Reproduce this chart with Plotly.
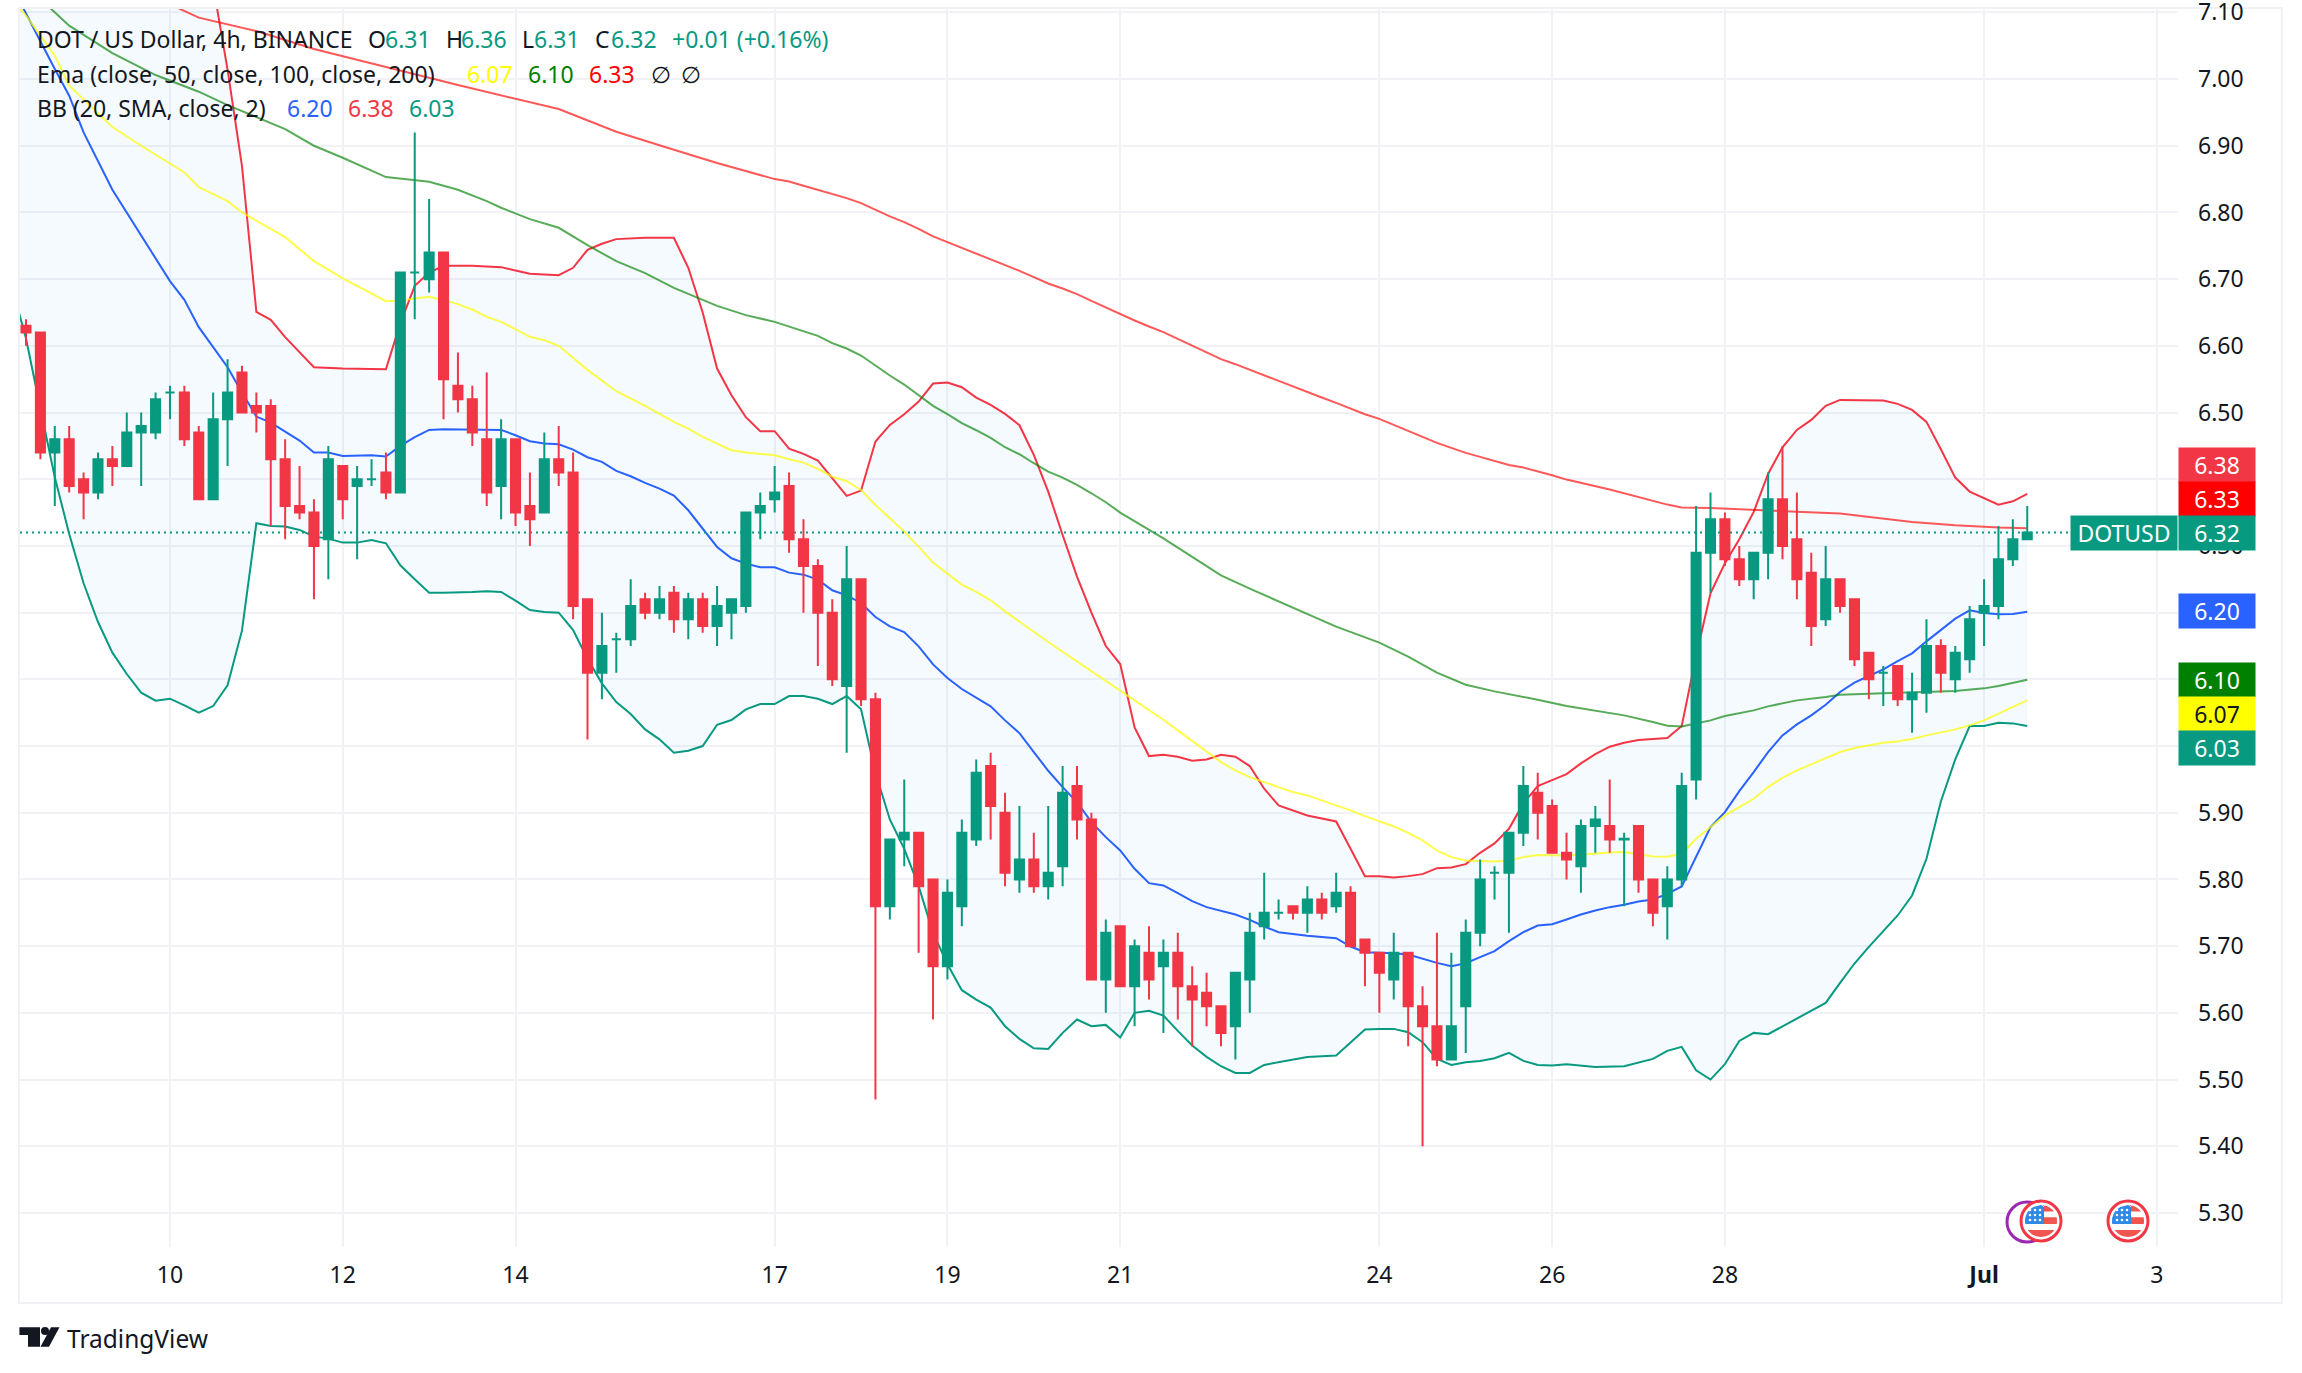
import math
import pandas as pd
import plotly.graph_objects as go

# 4h candles, first bar 8 Jun 08:00
opens = [6.63,6.62,6.44,6.46,6.40,6.38,6.43,6.42,6.47,6.47,
         6.53,6.53,6.47,6.37,6.49,6.56,6.51,6.51,6.43,6.36,
         6.35,6.31,6.42,6.39,6.40,6.41,6.38,6.71,6.70,6.74,
         6.54,6.52,6.46,6.39,6.46,6.36,6.35,6.43,6.41,6.22,
         6.11,6.16,6.16,6.22,6.20,6.23,6.19,6.22,6.18,6.20,
         6.21,6.35,6.37,6.39,6.31,6.27,6.20,6.09,6.25,6.07,
         5.76,5.86,5.87,5.80,5.67,5.76,5.86,5.97,5.90,5.80,
         5.83,5.79,5.82,5.94,5.89,5.65,5.73,5.64,5.69,5.67,
         5.69,5.64,5.63,5.61,5.58,5.65,5.73,5.75,5.76,5.75,
         5.77,5.76,5.78,5.71,5.69,5.65,5.69,5.61,5.58,5.53,
         5.61,5.72,5.81,5.81,5.87,5.93,5.91,5.84,5.82,5.88,
         5.88,5.86,5.88,5.80,5.76,5.80,5.95,6.29,6.34,6.28,
         6.25,6.29,6.37,6.31,6.26,6.19,6.25,6.22,6.14,6.11,
         6.12,6.07,6.08,6.15,6.10,6.13,6.20,6.21,6.28,6.31]
highs = [6.64,6.62,6.48,6.48,6.41,6.44,6.45,6.50,6.50,6.53,
         6.54,6.54,6.48,6.53,6.58,6.57,6.53,6.52,6.46,6.42,
         6.37,6.45,6.42,6.42,6.43,6.44,6.71,6.92,6.82,6.74,
         6.59,6.54,6.56,6.49,6.46,6.41,6.47,6.48,6.44,6.22,
         6.20,6.17,6.25,6.23,6.24,6.24,6.23,6.23,6.24,6.22,
         6.35,6.38,6.42,6.41,6.34,6.28,6.22,6.30,6.25,6.08,
         5.86,5.95,5.87,5.80,5.80,5.89,5.98,5.99,5.93,5.91,
         5.87,5.91,5.97,5.97,5.90,5.74,5.73,5.71,5.73,5.71,
         5.72,5.67,5.66,5.61,5.66,5.75,5.81,5.77,5.76,5.79,
         5.78,5.81,5.79,5.71,5.69,5.72,5.69,5.64,5.72,5.69,
         5.74,5.83,5.82,5.87,5.97,5.96,5.92,5.87,5.89,5.91,
         5.95,5.87,5.88,5.80,5.82,5.96,6.36,6.38,6.35,6.30,
         6.29,6.41,6.45,6.38,6.29,6.30,6.25,6.22,6.14,6.12,
         6.12,6.11,6.19,6.16,6.15,6.21,6.25,6.33,6.34,6.36]
lows = [6.60,6.43,6.36,6.38,6.34,6.37,6.39,6.42,6.39,6.46,
        6.49,6.45,6.37,6.37,6.42,6.50,6.47,6.33,6.31,6.34,
        6.22,6.25,6.34,6.28,6.39,6.37,6.38,6.64,6.68,6.49,
        6.50,6.45,6.36,6.34,6.33,6.30,6.35,6.39,6.19,6.01,
        6.07,6.11,6.15,6.19,6.19,6.17,6.16,6.17,6.15,6.16,
        6.20,6.31,6.35,6.29,6.20,6.12,6.09,5.99,6.06,5.47,
        5.74,5.82,5.69,5.59,5.65,5.73,5.85,5.86,5.79,5.78,
        5.78,5.77,5.79,5.86,5.65,5.60,5.64,5.58,5.62,5.57,
        5.59,5.55,5.58,5.55,5.53,5.60,5.71,5.74,5.74,5.72,
        5.74,5.75,5.70,5.64,5.60,5.62,5.55,5.40,5.52,5.53,
        5.54,5.70,5.77,5.72,5.85,5.86,5.84,5.80,5.78,5.84,
        5.84,5.76,5.78,5.73,5.71,5.79,5.92,6.23,6.27,6.24,
        6.22,6.25,6.28,6.22,6.15,6.18,6.20,6.12,6.07,6.06,
        6.06,6.02,6.05,6.08,6.08,6.11,6.15,6.19,6.27,6.31]
closes = [6.62,6.44,6.46,6.39,6.38,6.43,6.42,6.47,6.48,6.52,
          6.53,6.46,6.37,6.49,6.53,6.50,6.50,6.43,6.36,6.35,
          6.30,6.43,6.37,6.40,6.40,6.38,6.71,6.71,6.74,6.55,
          6.52,6.47,6.38,6.46,6.35,6.34,6.43,6.41,6.21,6.11,
          6.15,6.16,6.21,6.20,6.22,6.19,6.22,6.18,6.21,6.22,
          6.35,6.36,6.38,6.31,6.27,6.20,6.10,6.25,6.07,5.76,
          5.86,5.87,5.79,5.67,5.78,5.87,5.96,5.91,5.81,5.83,
          5.79,5.81,5.93,5.89,5.65,5.72,5.64,5.70,5.65,5.69,
          5.64,5.62,5.61,5.57,5.66,5.72,5.75,5.75,5.75,5.77,
          5.75,5.78,5.70,5.69,5.66,5.69,5.61,5.58,5.53,5.58,
          5.72,5.80,5.81,5.87,5.94,5.90,5.84,5.83,5.88,5.89,
          5.86,5.861,5.80,5.75,5.80,5.94,6.29,6.34,6.28,6.25,
          6.29,6.37,6.30,6.25,6.18,6.25,6.21,6.13,6.10,6.11,
          6.07,6.08,6.15,6.11,6.14,6.19,6.21,6.28,6.31,6.32]

# indicator lines, read as vertices: bar number, price
bb_lower_bars = list(range(-1, 87)) + [89, 91, 92, 93, 94, 95, 96, 97, 98, 99, 100, 101, 102, 103, 104, 105, 106, 107,
                                       109, 111, 113, 114, 115, 116, 117, 118, 119, 120, 121, 123, 125, 126, 127, 128,
                                       130, 131, 132, 133, 134, 135, 136, 137, 138, 139]
bb_lower = [6.69,6.611,6.506,6.403,6.318,6.244,6.186,6.14,6.108,6.08,6.068,6.071,6.061,6.05,6.06,6.091,6.173,
            6.334,6.33,6.329,6.324,6.314,6.311,6.305,6.305,6.309,6.304,6.271,6.25,6.23,6.23,6.23,6.231,6.232,
            6.231,6.218,6.204,6.201,6.2,6.174,6.131,6.094,6.066,6.048,6.025,6.01,5.99,5.993,6.0,6.032,6.039,
            6.055,6.063,6.063,6.075,6.075,6.071,6.063,6.075,6.055,5.96,5.89,5.846,5.79,5.72,5.673,5.634,5.62,5.608,
            5.58,5.561,5.547,5.546,5.57,5.59,5.58,5.582,5.563,5.60,5.603,5.596,5.573,5.551,5.534,5.52,5.51,5.51,
            5.522,
            5.534,5.536,5.556,5.575,5.576,5.576,5.571,5.556,5.531,5.522,5.526,5.528,5.532,5.54,5.528,5.522,5.521,5.523,
            5.519,5.52,5.531,5.543,5.549,5.514,5.5,5.523,5.558,5.57,5.568,5.592,5.615,5.645,5.674,5.699,
            5.746,5.776,5.831,5.917,5.98,6.03,6.03,6.035,6.034,6.03]
bb_upper_bars = [-1, 2, 4, 6, 8, 10, 12, 13, 14, 15, 16, 17, 18, 19, 20, 22, 25, 26, 27, 28, 29, 31, 33, 34, 35, 37, 38,
                 39, 40, 41, 43, 45, 46, 47, 48, 49, 50, 51, 52, 53, 54, 55, 56, 57, 58, 59, 60, 61, 62, 63, 64, 65,
                 66, 67, 68, 69, 70, 71, 72, 73, 74, 75, 76, 77, 78, 79, 80, 81, 82, 83, 84, 85, 86, 87, 89, 91, 92,
                 93, 94, 95, 96, 97, 98, 99, 100, 101, 102, 103, 104, 105, 106, 107, 108, 109, 110, 111, 112, 114, 115,
                 116, 117, 118, 119, 120, 121, 122, 123, 124, 125, 126, 129, 130, 131, 132, 133, 134, 135, 136, 137,
                 138, 139]
bb_upper = [7.58,7.63,7.60,7.53,7.44,7.32,7.21,7.14,7.014,6.87,6.651,6.639,6.613,6.591,6.568,6.566,6.565,6.634,6.69,
            6.71,6.72,6.72,6.718,6.713,6.708,6.706,6.717,6.744,6.753,6.76,6.762,6.762,6.717,6.65,6.566,6.526,6.493,
            6.472,6.472,6.446,6.438,6.428,6.4015,6.375,6.383,6.4565,6.4815,6.4975,6.5165,6.5435,6.545,6.538,6.5225,
            6.5115,6.498,6.481,6.4365,6.3815,6.3165,6.254,6.2,6.15,6.123,6.028,5.985,5.987,5.984,5.978,5.98,5.987,
            5.984,5.97,5.936,5.911,5.896,5.887,5.846,5.805,5.805,5.803,5.805,5.808,5.817,5.818,5.823,5.84,5.854,
            5.876,5.914,5.94,5.949,5.958,5.974,5.988,5.999,6.005,6.009,6.012,6.03,6.135,6.229,6.274,6.31,6.351,6.408,
            6.448,6.474,6.489,6.51,6.519,6.518,6.513,6.504,6.486,6.445,6.4025,6.3815,6.372,6.362,6.367,6.378]
bb_basis_bars = [-1, 1, 2, 3, 4, 6, 7, 9] + list(range(10, 88)) + [89] + list(range(91, 140))
bb_basis = [7.14,7.056,7.015,6.975,6.92,6.834,6.80,6.733,6.697,6.669,6.628,6.598,6.568,6.53,6.494,6.485,6.471,6.458,
            6.44,6.44,6.435,6.435,6.436,6.434,6.45,6.463,6.474,6.475,6.475,6.475,6.475,6.474,6.466,6.457,6.4535,6.4525,
            6.4445,6.433,6.426,6.4125,6.4045,6.3945,6.386,6.3755,6.3535,6.326,6.2985,6.2815,6.2735,6.268,6.268,6.26,
            6.257,6.2495,6.2335,6.226,6.2145,6.1935,6.1795,6.171,6.1495,6.1225,6.102,6.0855,6.0725,6.0595,6.0385,
            6.0195,5.991,5.963,5.9385,5.916,5.886,5.8635,5.8435,5.816,5.7945,5.791,5.7795,5.7675,5.7585,5.7535,5.7475,
            5.7395,5.7295,5.721,5.7155,5.712,5.6995,5.691,5.6905,5.6895,5.6875,5.681,5.675,5.67,5.6745,5.6835,5.6925,
            5.7075,5.721,5.731,5.733,5.74,5.7475,5.7535,5.7585,5.762,5.767,5.77,5.7785,5.7895,5.8335,5.8785,5.901,
            5.9325,5.961,5.991,6.016,6.0325,6.046,6.062,6.081,6.095,6.105,6.115,6.1275,6.139,6.157,6.1735,6.191,6.2035,
            6.1995,6.1975,6.198,6.2015]
ema50_bars = [-1, 0, 1, 2, 3, 6, 8, 11, 12, 14, 15, 18, 20, 22, 25, 26, 27, 28, 29, 30, 31, 32, 33, 34, 35, 36, 37, 39,
              41, 43] + list(range(45, 72)) + [77, 78, 79, 80, 81, 82, 83, 84, 85, 86, 87, 88, 89, 90, 91, 92, 93, 94,
              95, 96, 97, 98, 99, 100, 101, 102, 103, 104, 105] + list(range(106, 140))
ema50 = [7.12,7.095,7.065,7.035,6.99,6.928,6.90,6.86,6.838,6.817,6.80,6.763,6.727,6.701,6.667,6.668,6.671,6.6735,
         6.6685,6.6625,6.6545,6.6435,6.636,6.625,6.6135,6.6085,6.60,6.564,6.532,6.51,
         6.486,6.476,6.4635,6.4535,6.4435,6.44,6.4375,6.436,6.43,6.425,6.4155,6.404,6.397,6.384,6.3615,6.3415,6.3215,
         6.299,6.275,6.2585,6.242,6.231,6.2185,6.202,6.187,6.171,6.156,
         6.0685,6.0545,6.0395,6.0235,6.0075,5.9925,5.976,5.9635,5.9535,5.946,5.9385,5.931,5.926,5.9185,5.912,5.9035,
         5.895,5.8875,5.8795,5.87,5.8585,5.8435,5.8335,5.8285,5.8275,5.827,5.8285,5.8335,5.8365,
         5.836,5.836,5.8375,5.8395,5.8405,5.841,5.8375,5.8345,5.834,5.8385,5.861,5.8785,5.896,5.9085,5.921,5.9385,
         5.9525,5.9635,5.9725,5.981,5.991,5.997,6.001,6.005,6.007,6.0105,6.016,6.02,6.025,6.031,6.0385,6.0485,6.0585,
         6.0685]
ema100_bars = [0, 1, 3, 6, 9, 12, 14, 18, 20, 22, 25, 28, 30, 32, 33, 35, 37, 39, 41, 43, 45, 48, 50, 52] + \
              list(range(53, 83)) + [83, 85, 88, 91, 94, 96, 98, 100, 102, 104, 105, 107, 109, 111, 113, 114, 115,
                                     117, 118, 120, 121, 123, 125, 126, 129, 132, 134, 136, 137, 139]
ema100 = [7.14,7.12,7.08,7.039,7.006,6.981,6.961,6.925,6.90,6.882,6.853,6.846,6.834,6.817,6.807,6.79,6.777,6.751,6.727,
          6.709,6.687,6.66,6.646,6.636,
          6.629,6.6225,6.615,6.604,6.596,6.5855,6.57,6.5555,6.542,6.5265,6.51,6.4975,6.484,6.4735,6.462,6.448,6.4375,
          6.424,6.4115,6.4025,6.3915,6.379,6.3655,6.35,6.3375,6.324,6.3115,6.2975,6.284,6.27,
          6.256,6.236,6.208,6.179,6.155,6.134,6.11,6.092,6.082,6.074,6.0695,6.06,6.0535,6.046,6.036,6.0305,6.0295,
          6.0385,6.045,6.0535,6.0595,6.0685,6.0735,6.077,6.079,6.081,6.0825,6.0865,6.09,6.0995]
ema200_bars = [10, 12, 16, 20, 25, 30, 37, 41, 45, 48, 52] + list(range(53, 111)) + [114, 115, 117, 120, 123, 126, 131,
                                                                                     134, 137, 139]
ema200 = [7.112,7.092,7.072,7.045,7.018,6.991,6.955,6.921,6.894,6.874,6.85,
          6.8465,6.84,6.834,6.8275,6.8215,6.814,6.804,6.794,6.7855,6.7755,6.764,6.7555,6.7465,6.7385,6.73,6.7205,6.7125,
          6.703,6.6935,6.686,6.6775,6.6675,6.6575,6.6475,6.638,6.629,6.6205,6.6105,6.6005,6.59,6.58,6.5725,6.564,6.5565,
          6.548,6.539,6.531,6.5225,6.5145,6.506,6.4975,6.4905,6.482,6.4725,6.4635,6.4545,6.447,6.4395,6.4335,6.4275,
          6.4215,6.4175,6.412,6.406,6.3995,6.3945,6.39,6.3845,
          6.362,6.3575,6.357,6.3545,6.352,6.3485,6.336,6.331,6.3275,6.3265]
last_close = 6.32

# catch a bar list and its prices going out of step
for name, bars, vals in [("bb_lower", bb_lower_bars, bb_lower), ("bb_upper", bb_upper_bars, bb_upper),
                         ("bb_basis", bb_basis_bars, bb_basis), ("ema50", ema50_bars, ema50),
                         ("ema100", ema100_bars, ema100), ("ema200", ema200_bars, ema200)]:
    assert len(bars) == len(vals), (name, len(bars), len(vals))

price_ticks = [5.3, 5.4, 5.5, 5.6, 5.7, 5.8, 5.9, 6.0, 6.1, 6.2, 6.3, 6.4, 6.5, 6.6, 6.7, 6.8, 6.9, 7.0, 7.1]
date_ticks = ["2024-06-10", "2024-06-12", "2024-06-14", "2024-06-17", "2024-06-19", "2024-06-21",
              "2024-06-24", "2024-06-26", "2024-06-28", "2024-07-01", "2024-07-03"]
date_labels = ["10", "12", "14", "17", "19", "21", "24", "26", "28", "<b>Jul</b>", "3"]

# price scale labels: text, background, text colour, price the box is centred on (stacked so they don't overlap)
scale_labels = [("6.38", "#f23645", "white", 6.4214),
                ("6.33", "#ff0000", "white", 6.3705),
                ("6.32", "#089981", "white", 6.3195),
                ("6.20", "#2962ff", "white", 6.2025),
                ("6.10", "#008000", "white", 6.099),
                ("6.07", "#ffff00", "#131722", 6.0481),
                ("6.03", "#089981", "white", 5.9972)]

# legend runs: row, left px, text, colour
TEXT = "#131722"
UP = "#089981"
legend_runs = [(39, 36, "DOT / US Dollar, 4h, BINANCE", TEXT), (39, 367, "O", TEXT), (39, 384, "6.31", UP),
               (39, 445, "H", TEXT), (39, 460, "6.36", UP), (39, 521, "L", TEXT), (39, 533, "6.31", UP),
               (39, 594, "C", TEXT), (39, 610, "6.32", UP), (39, 671, "+0.01 (+0.16%)", UP),
               (74, 36, "Ema (close, 50, close, 100, close, 200)", TEXT), (74, 466, "6.07", "#ffff00"),
               (74, 527, "6.10", "#008000"), (74, 588, "6.33", "#ff0000"), (74, 650, "∅", TEXT), (74, 680, "∅", TEXT),
               (108, 36, "BB (20, SMA, close, 2)", TEXT), (108, 286, "6.20", "#2962ff"), (108, 347, "6.38", "#f23645"),
               (108, 408, "6.03", "#089981")]

FONT = "Noto Sans"
GRID = "#f1f2f5"
W, H = 2302, 1373
LEFT, RIGHT, TOP, BOTTOM = 20, 2178, 9, 1247


def xp(px):
    return (px - LEFT) / (RIGHT - LEFT)


def yp(py):
    return (BOTTOM - py) / (BOTTOM - TOP)


def bar_time(i):
    return pd.Timestamp("2024-06-08 08:00") + pd.Timedelta(hours=4 * i)


def bar_times(bars):
    return [bar_time(i) for i in bars]


def poly(points, color):
    path = "M " + " L ".join(f"{xp(x):.5f},{yp(y):.5f}" for x, y in points) + " Z"
    return dict(type="path", xref="paper", yref="paper", path=path, fillcolor=color, line_width=0)


def disc(cx, cy, r, fill, line=None, width=0):
    return dict(type="circle", xref="paper", yref="paper", x0=xp(cx - r), x1=xp(cx + r), y0=yp(cy + r), y1=yp(cy - r),
                fillcolor=fill, line=dict(color=line or fill, width=width))


def band(cx, cy, r, y1, y2, x1, x2, color):
    # piece of a disc between two heights and two x limits
    ys = [y1 + (y2 - y1) * k / 10 for k in range(11)]
    right = [(cx + min(x2, math.sqrt(max(r * r - y * y, 0))), cy + y) for y in ys]
    left = [(cx + max(x1, -math.sqrt(max(r * r - y * y, 0))), cy + y) for y in reversed(ys)]
    return poly(right + left, color)


def flag(cx, cy):
    shapes = [disc(cx, cy, 20, "white", "#f23645", 3)]
    shapes.append(band(cx, cy, 16, -16, -9.5, 3, 16, "#f0564f"))
    shapes.append(band(cx, cy, 16, -3.7, 3, 3, 16, "#f0564f"))
    shapes.append(band(cx, cy, 16, 9, 16, -16, 16, "#f0564f"))
    shapes.append(band(cx, cy, 16, -16, 3, -16, 3, "#2e8ae6"))
    for dy in (-11, -6, -1):
        for dx in (-11, -6, -1):
            shapes.append(disc(cx + dx, cy + dy, 1.3, "white"))
    return shapes


fig = go.Figure()

# band first so the fill stays under everything
fig.add_trace(go.Scatter(x=bar_times(bb_lower_bars), y=bb_lower, mode="lines", line=dict(color="#089981", width=2)))
fig.add_trace(go.Scatter(x=bar_times(bb_upper_bars), y=bb_upper, mode="lines", line=dict(color="#f23645", width=2),
                         fill="tonexty", fillcolor="rgba(33,150,243,0.05)"))
fig.add_trace(go.Scatter(x=bar_times(bb_basis_bars), y=bb_basis, mode="lines", line=dict(color="#2962ff", width=2)))
fig.add_trace(go.Scatter(x=bar_times(ema50_bars), y=ema50, mode="lines", opacity=0.7,
                         line=dict(color="#ffff00", width=2)))
fig.add_trace(go.Scatter(x=bar_times(ema100_bars), y=ema100, mode="lines", opacity=0.65,
                         line=dict(color="#008000", width=2)))
fig.add_trace(go.Scatter(x=bar_times(ema200_bars), y=ema200, mode="lines", opacity=0.65,
                         line=dict(color="#ff0000", width=2)))

x_start = pd.Timestamp("2024-06-08 06:20")
x_end = pd.Timestamp("2024-07-03 05:53")
fig.add_trace(go.Scatter(x=[x_start, x_end], y=[last_close, last_close], mode="lines",
                         line=dict(color="#089981", width=2, dash="2px,4px")))

# candles sit on an overlaying axis, otherwise plotly puts the scatter layer over them
fig.add_trace(go.Candlestick(x=bar_times(range(len(opens))), open=opens, high=highs, low=lows, close=closes, yaxis="y2",
                             increasing=dict(line=dict(color="#089981", width=2), fillcolor="#089981"),
                             decreasing=dict(line=dict(color="#f23645", width=2), fillcolor="#f23645")))

price_range = [5.249, 7.105]

annotations = []
for row, px, text, color in legend_runs:
    annotations.append(dict(xref="paper", yref="paper", x=xp(px), y=yp(row), xanchor="left", yanchor="middle",
                            showarrow=False, text=text, borderpad=0, font=dict(family=FONT, size=23, color=color)))
for text, bg, color, price in scale_labels:
    annotations.append(dict(xref="paper", yref="y", x=xp(RIGHT), y=price, xanchor="left", yanchor="middle",
                            showarrow=False, text=text, bgcolor=bg, width=76, height=34, borderpad=0,
                            font=dict(family=FONT, size=23, color=color)))
annotations.append(dict(xref="paper", yref="y", x=xp(2070), y=6.3195, xanchor="left", yanchor="middle", showarrow=False,
                        text="DOTUSD", bgcolor="#089981", width=106, height=34, borderpad=0,
                        font=dict(family=FONT, size=23, color="white")))
annotations.append(dict(xref="paper", yref="paper", x=xp(66), y=yp(1338), xanchor="left", yanchor="middle",
                        showarrow=False, text="TradingView", borderpad=0, font=dict(family=FONT, size=24.5, color=TEXT)))

# outer frame, logo, event badges
shapes = [dict(type="rect", xref="paper", yref="paper", x0=xp(19), x1=xp(2282), y0=yp(1303), y1=yp(8),
               line=dict(color="#eff1f5", width=2), layer="below"),
          poly([(19.4, 1327.3), (40, 1327.3), (40, 1346.7), (28, 1346.7), (28, 1335), (19.4, 1335)], "#131722"),
          disc(45, 1331, 4, "#131722"),
          poly([(51, 1327.3), (59.5, 1327.3), (49, 1346.7), (40.5, 1346.7)], "#131722"),
          disc(2027, 1222, 20, "white", "#9c27b0", 3)]
shapes += flag(2041, 1221)
shapes += flag(2128, 1221)

fig.update_layout(
    width=W, height=H, autosize=False, showlegend=False, boxgap=0.1,
    margin=dict(l=LEFT, r=W - RIGHT, t=TOP, b=H - BOTTOM, pad=0, autoexpand=False),
    paper_bgcolor="white", plot_bgcolor="white",
    font=dict(family=FONT, size=23, color=TEXT),
    annotations=annotations, shapes=shapes,
    xaxis=dict(type="date", range=[x_start, x_end], tickvals=date_ticks, ticktext=date_labels, showgrid=True,
               gridcolor=GRID, gridwidth=2, zeroline=False, showline=False, ticks="", ticklabelstandoff=12,
               rangeslider=dict(visible=False), tickangle=0),
    yaxis=dict(range=price_range, side="right", tickvals=price_ticks, tickformat=".2f", showgrid=True, gridcolor=GRID,
               gridwidth=2, zeroline=False, showline=False, ticks="", ticklabelstandoff=19, ticklabeloverflow="allow",
               automargin=False),
    yaxis2=dict(range=price_range, overlaying="y", side="right", visible=False, showgrid=False),
)

fig.write_html("out.html", config=dict(displayModeBar=False),
               post_script="document.body.style.margin='0';document.body.style.overflow='hidden';")
